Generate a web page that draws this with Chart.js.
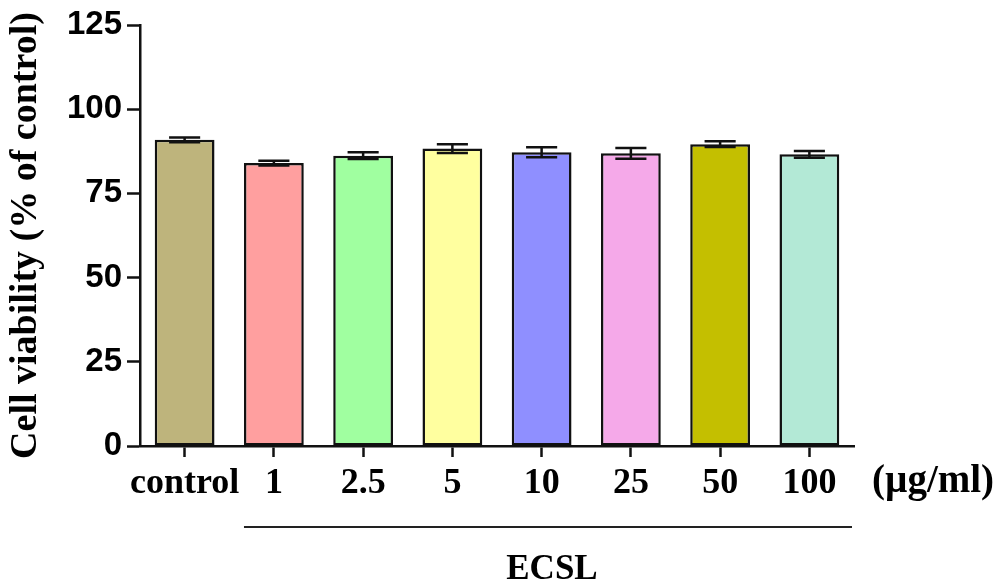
<!DOCTYPE html>
<html>
<head>
<meta charset="utf-8">
<script src="https://cdn.jsdelivr.net/npm/chart.js@4.4.0/dist/chart.umd.min.js"></script>
<style>
  html, body { margin: 0; padding: 0; background: #fff; }
  #wrap { width: 1003px; height: 585px; position: relative; }
</style>
</head>
<body>
<div id="wrap"><canvas id="viability-chart" width="1003" height="585"></canvas></div>
<script>
// values
const categories = ['control', '1', '2.5', '5', '10', '25', '50', '100'];
const viability = [90.9, 84.0, 86.2, 88.3, 87.2, 86.9, 89.6, 86.6];
const viabilityErr = [0.7, 0.7, 1.0, 1.3, 1.5, 1.6, 0.85, 1.0];
const yTicks = [0, 25, 50, 75, 100, 125];
const barColors = ['#BEB47C', '#FF9F9F', '#A0FFA0', '#FFFF9F', '#8F8FFF', '#F5A9E9', '#C4BF00', '#B3E9D6'];

const serif = '"Liberation Serif", "Times New Roman", serif';
const sans = '"Liberation Sans", Arial, sans-serif';

// error bars + the ECSL bracket under the axis
const extrasPlugin = {
    id: 'extras',
    afterDatasetsDraw(chart) {
        const ctx = chart.ctx;
        const y = chart.scales.y;
        const meta = chart.getDatasetMeta(0);
        ctx.save();
        ctx.strokeStyle = '#111';
        ctx.lineWidth = 2.5;
        meta.data.forEach((bar, i) => {
            const top = y.getPixelForValue(viability[i] + viabilityErr[i]);
            const bot = y.getPixelForValue(viability[i] - viabilityErr[i]);
            const half = bar.width * 0.26;
            ctx.beginPath();
            ctx.moveTo(bar.x, top); ctx.lineTo(bar.x, bot);
            ctx.moveTo(bar.x - half, top); ctx.lineTo(bar.x + half, top);
            ctx.moveTo(bar.x - half, bot); ctx.lineTo(bar.x + half, bot);
            ctx.stroke();
        });
        ctx.restore();
    },
    afterDraw(chart) {
        const ctx = chart.ctx;
        const area = chart.chartArea;
        const meta = chart.getDatasetMeta(0);
        const first = meta.data[1];
        const left = first.x - first.width / 2;
        const right = area.right - 2;
        ctx.save();
        ctx.strokeStyle = '#222';
        ctx.lineWidth = 2;
        ctx.beginPath();
        ctx.moveTo(left, 527);
        ctx.lineTo(right, 527);
        ctx.stroke();

        ctx.fillStyle = '#000';
        ctx.font = 'bold 35px ' + serif;
        ctx.textAlign = 'center';
        ctx.textBaseline = 'alphabetic';
        ctx.fillText('ECSL', (left + right) / 2 + 4, 579);

        ctx.font = 'bold 39px ' + serif;
        ctx.textAlign = 'left';
        ctx.fillText('(\u00b5g/ml)', area.right + 18, 492);
        ctx.restore();
    }
};

new Chart(document.getElementById('viability-chart'), {
    type: 'bar',
    data: {
        labels: categories,
        datasets: [{
            data: viability,
            backgroundColor: barColors,
            borderColor: '#111',
            borderWidth: 2.5,
            borderSkipped: false,
            barPercentage: 0.67,
            categoryPercentage: 1.0
        }]
    },
    options: {
        responsive: false,
        animation: false,
        devicePixelRatio: 1,
        layout: { padding: { left: 0, top: 25, right: 149, bottom: 0 } },
        plugins: {
            legend: { display: false },
            tooltip: { enabled: false }
        },
        scales: {
            x: {
                offset: true,
                grid: { display: true, drawOnChartArea: false, drawTicks: true, tickLength: 11, tickColor: '#111', tickWidth: 2.5, offset: false },
                border: { display: true, color: '#111', width: 2.5 },
                ticks: { color: '#000', padding: 5, font: { family: serif, size: 36, weight: 'bold' }, maxRotation: 0, autoSkip: false },
                afterFit(scale) { scale.height = 139; }
            },
            y: {
                min: 0,
                max: 125,
                afterBuildTicks(scale) { scale.ticks = yTicks.map(v => ({ value: v })); },
                grid: { display: true, drawOnChartArea: false, drawTicks: true, tickLength: 13, tickColor: '#111', tickWidth: 2.5 },
                border: { display: true, color: '#111', width: 2.5 },
                ticks: { color: '#000', padding: 5, font: { family: sans, size: 33, weight: 'bold' } },
                title: {
                    display: true,
                    text: 'Cell viability (% of control)',
                    color: '#000',
                    font: { family: serif, size: 38, weight: 'bold' },
                    padding: { top: 3, bottom: 0 }
                },
                afterFit(scale) { scale.width = 140; }
            }
        }
    },
    plugins: [extrasPlugin]
});
</script>
</body>
</html>
